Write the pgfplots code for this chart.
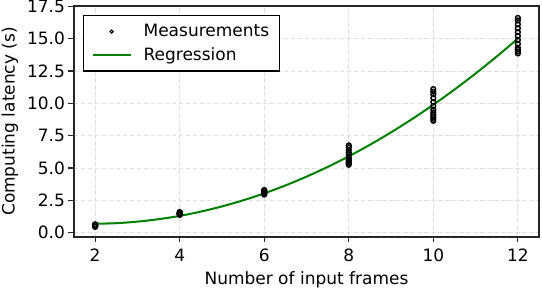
\documentclass[border=0pt]{standalone}
\usepackage{fontspec}
\setmainfont{DejaVu Sans}
\usepackage{pgfplots}
\pgfplotsset{compat=1.18}
\definecolor{mplgreen}{HTML}{008000}
\newcommand{\fs}{\fontsize{17}{20}\selectfont}
\begin{document}
\begin{tikzpicture}
\useasboundingbox (-74pt,-51pt) rectangle (468pt,237pt);
\begin{axis}[
  at={(0,0)}, anchor=south west,
  scale only axis, width=465pt, height=231pt,
  xmin=1.5, xmax=12.5, ymin=-0.33, ymax=17.52,
  xtick={2,4,6,8,10,12},
  ytick={0,2.5,5,7.5,10,12.5,15,17.5},
  /pgf/number format/assume math mode=true,
  yticklabel style={/pgf/number format/fixed, /pgf/number format/fixed zerofill, /pgf/number format/precision=1},
  xticklabel style={yshift=-3pt},
  tick label style={font=\fs},
  label style={font=\fs},
  xtick pos=left, ytick pos=left,
  tick align=outside,
  major tick length=5.5pt,
  every tick/.style={black!85, line width=1.2pt},
  axis line style={black!85, line width=1.4pt},
  grid=major,
  major grid style={gray!25, line width=0.9pt, dash pattern=on 4.5pt off 2.5pt},
  xlabel={Number of input frames},
  ylabel={Computing latency (s)},
  xlabel style={at={(axis description cs:0.5,-0.2035)}, anchor=base},
  ylabel style={at={(axis description cs:-0.1376,0.5)}, anchor=center},
  legend style={at={(0,1)}, anchor=north west, xshift=9pt, yshift=-9pt,
    font=\fs, draw=black, line width=1.2pt, inner xsep=8pt, inner ysep=7pt,
    row sep=5pt, cells={anchor=west}},
]
\addplot[only marks, mark=o, mark size=2.4pt, black, line width=1.4pt,
  legend image code/.code={\draw[black, line width=1.1pt] plot[mark=o, mark size=1.6pt] coordinates {(19pt,0pt)};
    \path[draw=none,fill=none] (0pt,0pt) -- (49pt,0pt);}]
coordinates {
(2,0.45) (2,0.50) (2,0.52) (2,0.55) (2,0.58) (2,0.60) (2,0.62) (2,0.65)
(4,1.38) (4,1.42) (4,1.45) (4,1.48) (4,1.50) (4,1.52) (4,1.55) (4,1.60)
(6,2.95) (6,3.00) (6,3.05) (6,3.10) (6,3.15) (6,3.20) (6,3.25) (6,3.30)
(8,5.25) (8,5.35) (8,5.45) (8,5.55) (8,5.65) (8,5.80) (8,6.00) (8,6.20) (8,6.40) (8,6.60) (8,6.75)
(10,8.65) (10,8.80) (10,8.95) (10,9.10) (10,9.30) (10,9.50) (10,9.80) (10,10.10) (10,10.40) (10,10.70) (10,10.90) (10,11.10)
(12,13.85) (12,14.00) (12,14.15) (12,14.30) (12,14.60) (12,14.90) (12,15.20) (12,15.50) (12,15.80) (12,16.10) (12,16.40) (12,16.60)
};
\addlegendentry{Measurements}
\addplot[mplgreen, line width=2pt, smooth,
  legend image code/.code={\draw[mplgreen, line width=2pt] (0pt,0pt) -- (38pt,0pt);
    \path[draw=none,fill=none] (0pt,0pt) -- (49pt,0pt);}]
coordinates {
(2,0.690) (2.5,0.738) (3,0.857) (3.5,1.045) (4,1.300) (4.5,1.633) (5,2.033) (5.5,2.502)
(6,3.040) (6.5,3.652) (7,4.333) (7.5,5.083) (8,5.904) (8.5,6.795) (9,7.757) (9.5,8.788)
(10,9.890) (10.5,11.062) (11,12.305) (11.5,13.617) (12,15.000)
};
\addlegendentry{Regression}
\end{axis}
\end{tikzpicture}
\end{document}
